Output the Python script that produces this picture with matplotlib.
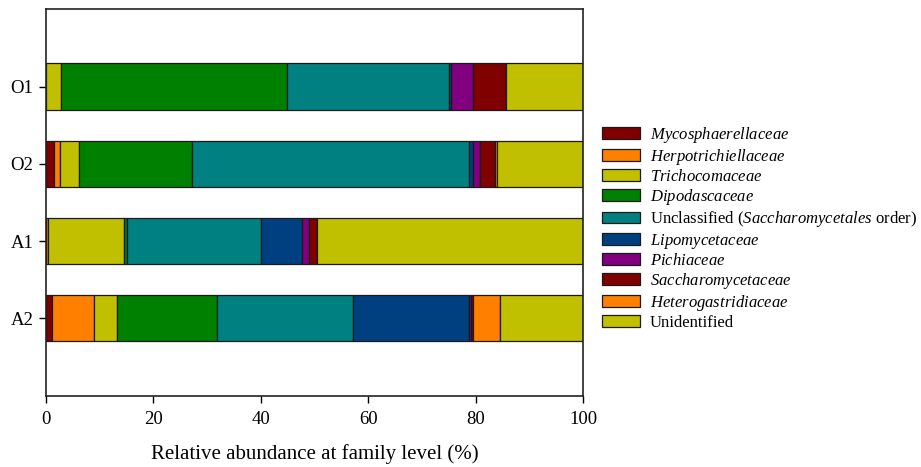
import numpy as np
import matplotlib
matplotlib.use("Agg")
import matplotlib.pyplot as plt

plt.rcParams['font.family'] = ['Liberation Serif', 'DejaVu Serif']
plt.rcParams['mathtext.fontset'] = 'custom'
plt.rcParams['mathtext.rm'] = 'Liberation Serif'
plt.rcParams['mathtext.it'] = 'Liberation Serif:italic'

samples = ['O1', 'O2', 'A1', 'A2']

families = [
    r'$\mathit{Mycosphaerellaceae}$',
    r'$\mathit{Herpotrichiellaceae}$',
    r'$\mathit{Trichocomaceae}$',
    r'$\mathit{Dipodascaceae}$',
    r'Unclassified ($\mathit{Saccharomycetales}$ order)',
    r'$\mathit{Lipomycetaceae}$',
    r'$\mathit{Pichiaceae}$',
    r'$\mathit{Saccharomycetaceae}$',
    r'$\mathit{Heterogastridiaceae}$',
    'Unidentified',
]

colors = ['#800000', '#FF8000', '#C0C000', '#008000', '#008080',
          '#004080', '#800080', '#800000', '#FF8000', '#C0C000']

# relative abundance (%) per family, in sample order O1, O2, A1, A2
mycosphaerellaceae  = [0.0, 1.5, 0.0, 1.1]
herpotrichiellaceae = [0.0, 1.1, 0.3, 7.9]
trichocomaceae      = [2.7, 3.6, 14.2, 4.2]
dipodascaceae       = [42.1, 20.9, 0.5, 18.7]
unclassified_sacch  = [30.3, 51.6, 25.0, 25.2]
lipomycetaceae      = [0.4, 0.8, 7.7, 21.7]
pichiaceae          = [4.1, 1.3, 1.3, 0.4]
saccharomycetaceae  = [6.1, 2.9, 1.4, 0.4]
heterogastridiaceae = [0.0, 0.3, 0.0, 4.9]
unidentified        = [14.3, 16.0, 49.6, 15.5]

values = [mycosphaerellaceae, herpotrichiellaceae, trichocomaceae,
          dipodascaceae, unclassified_sacch, lipomycetaceae, pichiaceae,
          saccharomycetaceae, heterogastridiaceae, unidentified]

fig = plt.figure(figsize=(9.21, 4.67), dpi=100)
ax = fig.add_axes([0.050, 0.153, 0.583, 0.827])

ypos = np.arange(len(samples))[::-1]
left = np.zeros(len(samples))
handles = []
for name, vals, col in zip(families, values, colors):
    vals = np.asarray(vals, dtype=float)
    b = ax.barh(ypos, vals, left=left, height=0.6, color=col,
                edgecolor='#1a1a1a', linewidth=0.9, label=name)
    handles.append(b)
    left += vals

ax.set_xlim(0, 100)
ax.set_ylim(-1, 4)
ax.set_yticks(ypos)
ax.set_yticklabels(samples, fontsize=13.5)
ax.set_xticks([0, 20, 40, 60, 80, 100])
ax.tick_params(axis='x', labelsize=13.5, length=5, width=1, pad=6)
ax.tick_params(axis='y', length=5, width=1, pad=4)
for s in ax.spines.values():
    s.set_linewidth(1.2)
    s.set_color('#222222')
ax.set_xlabel('Relative abundance at family level (%)', fontsize=15, labelpad=12)

leg = fig.legend(handles=handles, labels=families, loc='upper left',
                 bbox_to_anchor=(0.654, 0.733), frameon=False, fontsize=12,
                 handlelength=2.25, handleheight=0.72, handletextpad=0.58,
                 labelspacing=0.13, borderaxespad=0, borderpad=0)

fig.savefig('out.png', dpi=100)
